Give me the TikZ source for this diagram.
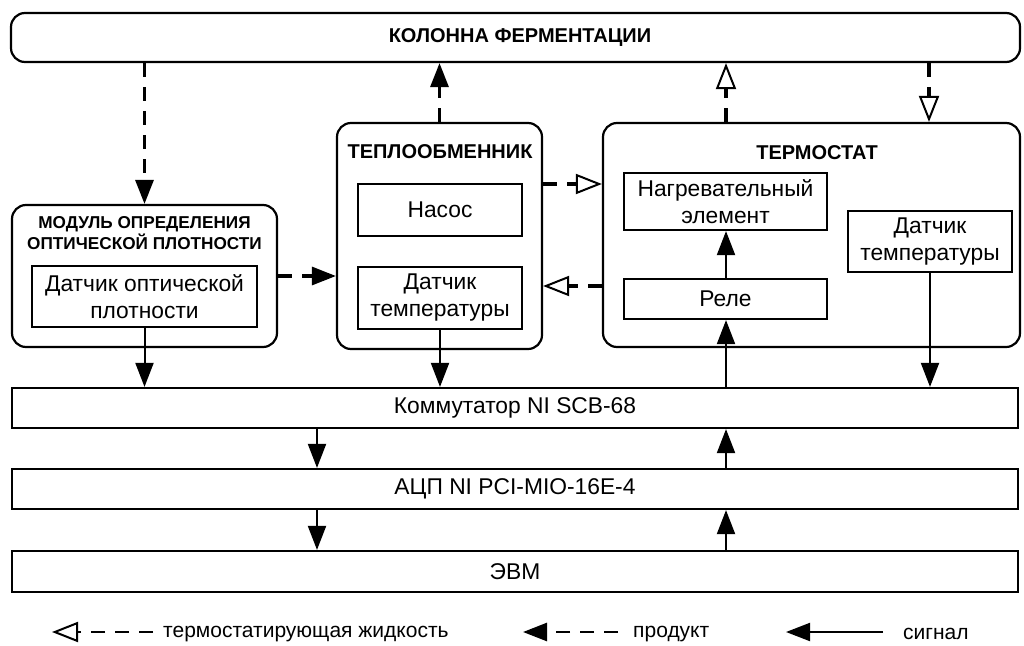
\documentclass[tikz,border=0pt]{standalone}
\usepackage{fontspec}
\setmainfont{Liberation Sans}
\usetikzlibrary{arrows.meta}
\begin{document}
\begin{tikzpicture}[x=1pt,y=-1pt,
  box/.style={draw, line width=2.2pt, inner sep=0pt},
  rbox/.style={box, rounded corners=14pt},
  txt/.style={font=\fontsize{22.8}{27}\selectfont, align=center},
  lgd/.style={font=\fontsize{21}{25}\selectfont, anchor=west, inner sep=0pt},
  ttl/.style={font=\bfseries\fontsize{20}{22}\selectfont, align=center},
  ttls/.style={font=\bfseries\fontsize{17.2}{20.5}\selectfont, align=center},
  sig/.style={line width=2pt, -{Triangle[length=24pt,width=18pt]}},
  prod/.style={line width=3.2pt, dash pattern=on 14pt off 10pt, -{Triangle[length=24pt,width=18pt]}},
  therm/.style={line width=3.2pt, dash pattern=on 14pt off 10pt, -{Triangle[open,length=26pt,width=20pt,line width=2pt]}},
]
\useasboundingbox[fill=white] (0,0) rectangle (1024,645);

% main blocks
\node[rbox, minimum width=1009pt, minimum height=49pt] (col) at (515.5,37.5) {};
\node[ttl] (colT) at (520,38) {КОЛОННА ФЕРМЕНТАЦИИ};

\node[rbox, minimum width=265pt, minimum height=142pt] (mod) at (144.5,276) {};
\node[ttls] (modT) at (144.5,233) {МОДУЛЬ ОПРЕДЕЛЕНИЯ\\ОПТИЧЕСКОЙ ПЛОТНОСТИ};
\node[box, txt, minimum width=225pt, minimum height=61pt] (dop) at (144.5,296.5) {Датчик оптической\\плотности};

\node[rbox, minimum width=205pt, minimum height=226pt] (heat) at (439.5,236) {};
\node[ttl] (heatT) at (440,152) {ТЕПЛООБМЕННИК};
\node[box, txt, minimum width=164pt, minimum height=52pt] (pump) at (440,210) {Насос};
\node[box, txt, minimum width=164pt, minimum height=62pt] (ts1) at (440,298) {Датчик\\температуры};

\node[rbox, minimum width=417pt, minimum height=224pt] (therm) at (811.5,235) {};
\node[ttl] (thermT) at (817,153) {ТЕРМОСТАТ};
\node[box, txt, minimum width=203pt, minimum height=57pt] (heater) at (725.5,201.5) {Нагревательный\\элемент};
\node[box, txt, minimum width=203pt, minimum height=40pt] (relay) at (725.5,299) {Реле};
\node[box, txt, minimum width=164pt, minimum height=61pt] (ts2) at (930,241.5) {Датчик\\температуры};

\node[box, txt, minimum width=1006pt, minimum height=40pt] (komm) at (515,408) {Коммутатор NI SCB-68};
\node[box, txt, minimum width=1006pt, minimum height=40pt] (adc) at (515,489) {АЦП NI PCI-MIO-16E-4};
\node[box, txt, minimum width=1006pt, minimum height=41pt] (evm) at (515,571.5) {ЭВМ};

% helper coordinates
\coordinate (xa) at (317,0);
\coordinate (xb) at (726,0);
\coordinate (xc) at (929,0);
\coordinate (ya) at (0,184);
\coordinate (yb) at (0,286);

% product flows
\draw[prod] (col.south -| mod.north) -- (mod.north);
\draw[prod] (heat.north) -- (heat.north |- col.south);
\draw[prod] (mod.east) -- (mod.east -| heat.west);

% thermostating liquid flows
\draw[therm] (ya -| heat.east) -- (ya -| therm.west);
\draw[therm] (yb -| therm.west) -- (yb -| heat.east);
\draw[therm] (therm.north -| xb) -- (col.south -| xb);
\draw[therm] (col.south -| xc) -- (therm.north -| xc);

% signals
\draw[sig] (dop.south) -- (dop.south |- komm.north);
\draw[sig] (ts1.south) -- (ts1.south |- komm.north);
\draw[sig] (komm.north -| xb) -- (relay.south -| xb);
\draw[sig] (relay.north -| xb) -- (heater.south -| xb);
\draw[sig] (ts2.south) -- (ts2.south |- komm.north);
\draw[sig] (komm.south -| xa) -- (adc.north -| xa);
\draw[sig] (adc.south -| xa) -- (evm.north -| xa);
\draw[sig] (adc.north -| xb) -- (komm.south -| xb);
\draw[sig] (evm.north -| xb) -- (adc.south -| xb);

% legend
\node[lgd] (lg1) at (163,634) {термостатирующая жидкость};
\coordinate (lt1) at (52,632);
\draw[therm, line width=2.6pt] ([xshift=-10pt]lg1.west |- lt1) -- (lt1);
\node[lgd] (lg2) at (633,634) {продукт};
\coordinate (lt2) at (523,632);
\draw[prod, line width=2.6pt] ([xshift=-15pt]lg2.west |- lt2) -- (lt2);
\node[lgd] (lg3) at (903,634) {сигнал};
\coordinate (lt3) at (786,632);
\draw[sig] ([xshift=-20pt]lg3.west |- lt3) -- (lt3);
\end{tikzpicture}
\end{document}
